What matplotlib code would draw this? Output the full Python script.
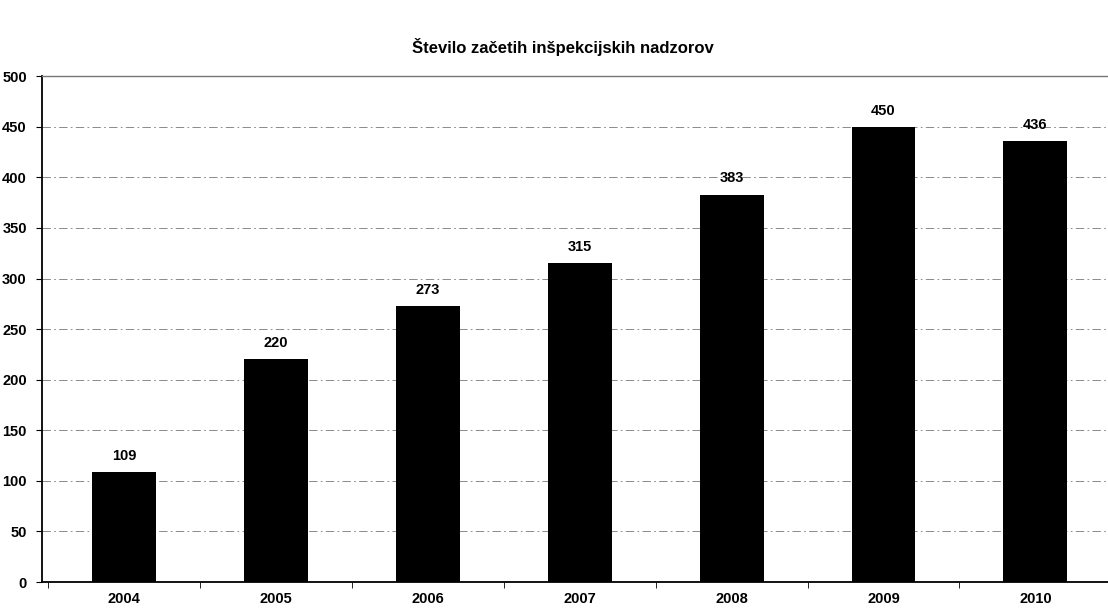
import matplotlib
matplotlib.use("Agg")
import matplotlib.pyplot as plt
import numpy as np

years = ["2004", "2005", "2006", "2007", "2008", "2009", "2010"]
counts = [109, 220, 273, 315, 383, 450, 436]
y_ticks = [0, 50, 100, 150, 200, 250, 300, 350, 400, 450, 500]

plt.rcParams['font.family'] = ['Liberation Sans', 'DejaVu Sans']

fig = plt.figure(figsize=(11.08, 6.14), dpi=100)
ax = fig.add_axes([0.038, 0.052, 0.965, 0.824])

x = np.arange(len(years))
bars = ax.bar(x, counts, width=0.42, color='black', zorder=3)

for xi, v in zip(x, counts):
    ax.text(xi, v + 9, str(v), ha='center', va='bottom', fontsize=10.5, fontweight='bold')

ax.set_ylim(0, 500)
ax.set_xlim(-0.54, 6.45)
ax.set_yticks(y_ticks)
ax.set_yticklabels([str(t) for t in y_ticks], fontsize=10.5, fontweight='bold')
ax.yaxis.grid(True, color='#777777', linestyle=(0, (10, 4, 2, 4)), linewidth=0.6, zorder=0)

# category labels centred under bars, ticks between categories
ax.set_xticks(x)
ax.set_xticklabels(years, fontsize=10.5, fontweight='bold')
ax.tick_params(axis='x', length=0, pad=7)
ax.set_xticks(np.arange(-0.5, len(years) - 0.5 + 1), minor=True)
ax.tick_params(axis='x', which='minor', length=4, direction='out')
ax.tick_params(axis='y', length=4, direction='out', pad=7)

ax.spines['right'].set_visible(False)
ax.spines['top'].set_color('#777777')
ax.spines['top'].set_linewidth(1.0)
ax.spines['left'].set_linewidth(1.3)
ax.spines['bottom'].set_linewidth(1.3)

fig.text(0.508, 0.923, "Število začetih inšpekcijskih nadzorov", ha='center', va='center',
         fontsize=12, fontweight='bold')

fig.savefig("out.png", dpi=100)
